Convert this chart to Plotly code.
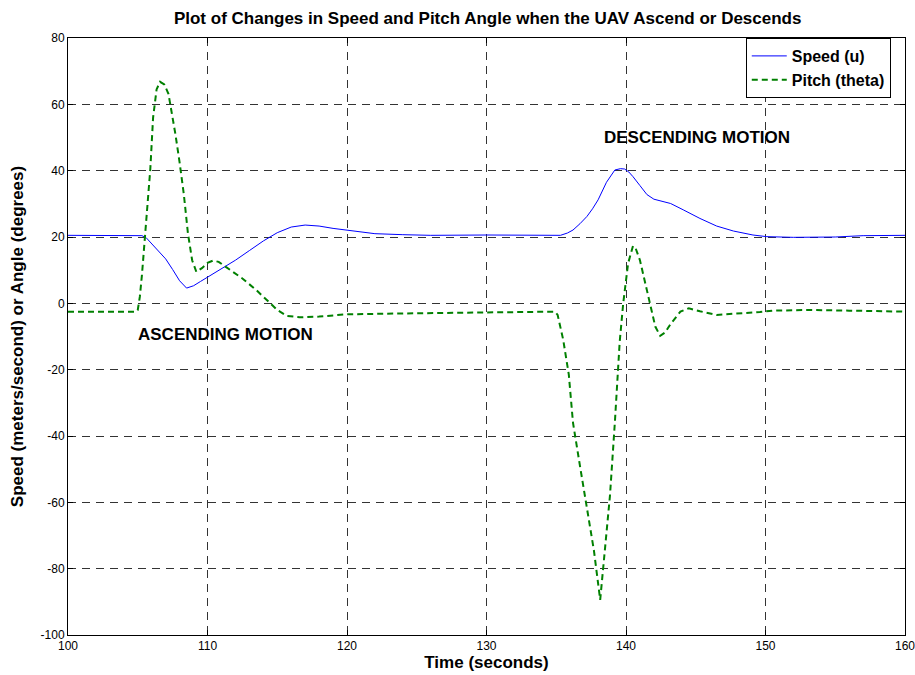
import plotly.graph_objects as go

# ---- data ----
speed_t = [100, 105.0, 105.3, 105.6, 106.0, 106.5, 107.0, 107.5, 108.0, 108.5, 109.0, 109.5,
           110.0, 111.0, 112.0, 113.0, 114.0, 115.0, 116.0, 117.0, 118.0, 119.0, 120.0, 121.0,
           122.0, 124, 126, 130, 135.0, 135.3, 135.8, 136.2, 136.7, 137.2, 137.6, 138.0, 138.6,
           139.2, 139.6, 139.9, 140.2, 140.5, 141.0, 141.5, 142.0, 142.5, 143.2, 144.1, 145.3,
           146.5, 147.7, 149.1, 150.1, 152, 155, 157, 160]
speed_u = [20.5, 20.5, 20.4, 19.8, 18.0, 15.8, 13.4, 10.2, 6.8, 4.6, 5.3, 6.6,
           7.9, 10.3, 13.0, 15.9, 18.8, 21.3, 23.0, 23.6, 23.3, 22.6, 22.0, 21.4,
           21.0, 20.7, 20.5, 20.6, 20.6, 20.5, 21.2, 22.1, 24.0, 26.2, 28.5, 31.2, 36.5,
           40.2, 40.6, 40.5, 39.6, 38.2, 35.5, 32.8, 31.4, 30.9, 30.1, 28.2, 25.6,
           23.3, 21.8, 20.6, 20.1, 19.9, 20.0, 20.4, 20.5]

pitch_t = [100, 104.9, 105.0, 105.15, 105.3, 105.45, 105.65, 105.9, 106.1, 106.35, 106.6, 106.9,
           107.2, 107.5, 107.7, 108.0, 108.3, 108.6, 108.9, 109.2, 109.6, 110.0, 110.4, 110.8,
           111.5, 112.5, 113.5, 114.3, 115.0, 115.7, 116.6, 118, 119, 120, 125, 130, 134.9,
           135.1, 135.5, 135.9, 136.2, 136.7, 137.2, 137.7, 138.15, 138.5, 138.85, 139.2, 139.55,
           139.8, 140.15, 140.5, 140.7, 141.0, 141.6, 142.1, 142.45, 142.8, 143.2, 143.9, 144.5,
           145.3, 146.5, 147.7, 149.6, 150.6, 153, 156, 160]
pitch_theta = [-2.5, -2.5, -2.0, 2, 8.5, 16, 28, 40.5, 56, 64.5, 66.8, 66.0,
               63.2, 56.5, 51, 42.5, 33, 21, 13, 9.5, 10.6, 12.2, 12.9, 12.5,
               10.5, 7.5, 4.0, 0.8, -2.0, -3.8, -4.2, -4.0, -3.6, -3.3, -3.0, -2.7, -2.5,
               -3.5, -11, -21.5, -36, -49, -61.3, -74.5, -89.4, -74, -58, -36, -11.5,
               0, 12, 17.3, 16.5, 13, 2, -7, -9.8, -8.8, -6.2, -2.5, -1.5,
               -2.4, -3.5, -3.2, -2.6, -2.2, -2.0, -2.2, -2.5]

x_ticks = [100, 110, 120, 130, 140, 150, 160]
y_ticks = [-100, -80, -60, -40, -20, 0, 20, 40, 60, 80]

FONT = "Arial, Liberation Sans, sans-serif"

fig = go.Figure()
fig.add_trace(go.Scatter(x=speed_t, y=speed_u, mode="lines", name="<b>Speed (u)</b>",
                         line=dict(color="#0000FF", width=1)))
fig.add_trace(go.Scatter(x=pitch_t, y=pitch_theta, mode="lines", name="<b>Pitch (theta)</b>",
                         line=dict(color="#008000", width=2, dash="6px,4px")))

axis_common = dict(showline=True, linecolor="black", linewidth=1, mirror="allticks",
                   ticks="inside", ticklen=5, tickcolor="black",
                   showgrid=True, gridcolor="#333333", gridwidth=1, griddash="8px,6px",
                   zeroline=False, automargin=False, ticklabeloverflow="allow",
                   tickfont=dict(family=FONT, size=12, color="black"))

fig.update_xaxes(range=[100, 160], tickvals=x_ticks, ticktext=[str(v) for v in x_ticks],
                 title=dict(text="<b>Time (seconds)</b>", font=dict(family=FONT, size=17, color="black"),
                            standoff=2),
                 **axis_common)
fig.update_yaxes(range=[-100, 80], tickvals=y_ticks, ticktext=[str(v) for v in y_ticks],
                 title=dict(text="<b>Speed (meters/second) or Angle (degrees)</b>",
                            font=dict(family=FONT, size=17, color="black"), standoff=12),
                 **axis_common)

fig.add_annotation(x=145.1, y=50, text="<b>DESCENDING MOTION</b>", showarrow=False,
                   font=dict(family=FONT, size=17, color="black"))
fig.add_annotation(x=111.3, y=-9.5, text="<b>ASCENDING MOTION</b>", showarrow=False,
                   font=dict(family=FONT, size=17, color="black"))

fig.update_layout(
    width=915, height=675,
    margin=dict(l=68, r=10, t=38, b=40, autoexpand=False),
    paper_bgcolor="white", plot_bgcolor="white",
    title=dict(text="<b>Plot of Changes in Speed and Pitch Angle when the UAV Ascend or Descends</b>",
               x=0.533, xanchor="center", y=0.973, yanchor="middle",
               font=dict(family=FONT, size=17, color="black")),
    legend=dict(x=0.983, y=1.0, xanchor="right", yanchor="top",
                bgcolor="white", bordercolor="black", borderwidth=1,
                font=dict(family=FONT, size=16, color="black"),
                tracegroupgap=0, itemwidth=35),
    showlegend=True,
)

fig.write_html("out.html")
